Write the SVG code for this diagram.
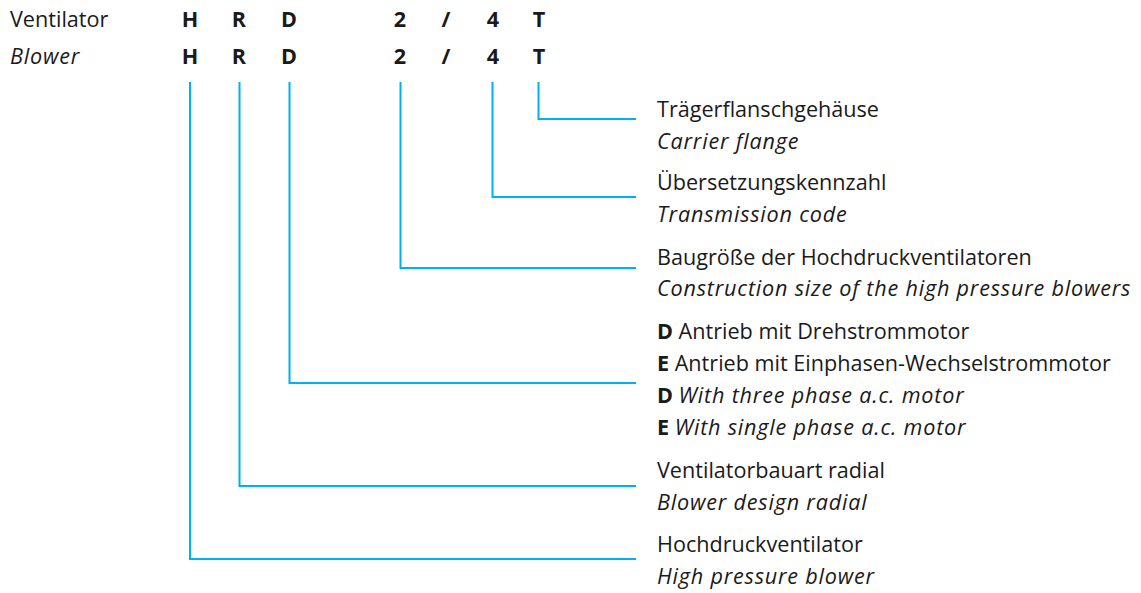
<svg xmlns="http://www.w3.org/2000/svg" width="1141" height="593" viewBox="0 0 1141 593">
<style>
text{font-family:"Open Sans","Noto Sans",sans-serif;font-size:21.6px;fill:#1a1a1a}
.i{font-style:italic;letter-spacing:0.8px}
.b{font-weight:bold}
.c{fill:none;stroke:#00b0f0;stroke-width:2}
.m{text-anchor:middle;font-weight:bold}
</style>
<rect width="1141" height="593" fill="#fff"/>
<g id="header">
<text x="10" y="27">Ventilator</text>
<text x="10" y="64" class="i">Blower</text>
<text x="190" y="27" class="m">H</text><text x="239" y="27" class="m">R</text><text x="289" y="27" class="m">D</text><text x="400" y="27" class="m">2</text><text x="446" y="27" class="m">/</text><text x="493" y="27" class="m">4</text><text x="539" y="27" class="m">T</text>
<text x="190" y="64" class="m">H</text><text x="239" y="64" class="m">R</text><text x="289" y="64" class="m">D</text><text x="400" y="64" class="m">2</text><text x="446" y="64" class="m">/</text><text x="493" y="64" class="m">4</text><text x="539" y="64" class="m">T</text>
</g>
<g id="connectors">
<path class="c" d="M538.5 82V119H636"/>
<path class="c" d="M492.5 82V197H636"/>
<path class="c" d="M400.5 82V268H636"/>
<path class="c" d="M289.5 82V383H636"/>
<path class="c" d="M239.5 82V486H636"/>
<path class="c" d="M190 82V559H636"/>
</g>
<g id="node-T"><text x="657" y="117">Trägerflanschgehäuse</text><text x="657" y="149" class="i">Carrier flange</text></g>
<g id="node-4"><text x="657" y="190">Übersetzungskennzahl</text><text x="657" y="222" class="i">Transmission code</text></g>
<g id="node-2"><text x="657" y="265">Baugröße der Hochdruckventilatoren</text><text x="657" y="296" class="i">Construction size of the high pressure blowers</text></g>
<g id="node-D"><text x="657" y="339"><tspan class="b">D</tspan> Antrieb mit Drehstrommotor</text><text x="657" y="371"><tspan class="b">E</tspan> Antrieb mit Einphasen-Wechselstrommotor</text><text x="657" y="403"><tspan class="b">D</tspan> <tspan class="i">With three phase a.c. motor</tspan></text><text x="657" y="435"><tspan class="b">E</tspan> <tspan class="i">With single phase a.c. motor</tspan></text></g>
<g id="node-R"><text x="657" y="478">Ventilatorbauart radial</text><text x="657" y="510" class="i">Blower design radial</text></g>
<g id="node-H"><text x="657" y="552">Hochdruckventilator</text><text x="657" y="584" class="i">High pressure blower</text></g>
</svg>
